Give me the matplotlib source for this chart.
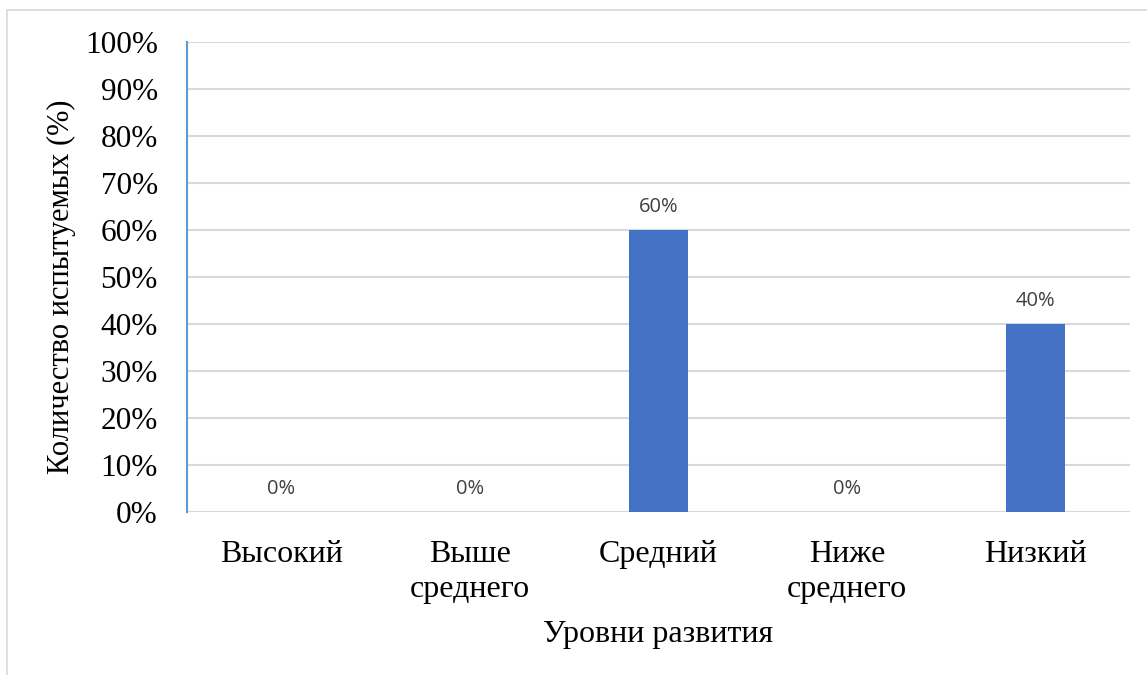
import matplotlib.pyplot as plt
from matplotlib.patches import Rectangle
from matplotlib.ticker import PercentFormatter

# data
categories = ["Высокий", "Выше\nсреднего", "Средний", "Ниже\nсреднего", "Низкий"]
values = [0, 0, 60, 0, 40]
y_ticks = [0, 10, 20, 30, 40, 50, 60, 70, 80, 90, 100]

W, H = 1147, 675
fig = plt.figure(figsize=(W / 100, H / 100), dpi=100)
ax = fig.add_axes([187 / W, 1 - 512 / H, (1130 - 187) / W, (512 - 42) / H])

# outer frame of the chart area (only top and left are visible)
fig.patches.append(Rectangle((7 / W, -0.1), 1.2, 1 - 10 / H + 0.1,
                             transform=fig.transFigure, fill=False,
                             edgecolor="#d9d9d9", linewidth=1.2))

x = range(len(categories))
bars = ax.bar(x, values, width=0.31, color="#4472c4", zorder=3)

for xi, v in zip(x, values):
    ax.text(xi, v + 2.8, f"{v}%", ha="center", va="bottom",
            fontsize=14.5, color="#404040", family="Open Sans")

ax.set_ylim(0, 100)
ax.set_xlim(-0.5, len(categories) - 0.5)
ax.set_yticks(y_ticks)
ax.yaxis.set_major_formatter(PercentFormatter(decimals=0))
ax.grid(axis="y", color="#d9d9d9", linewidth=1.5, zorder=0)

ax.set_xticks(list(x))
ax.set_xticklabels(categories, fontsize=23, family="Liberation Serif",
                   linespacing=1.3)
for lbl in ax.get_yticklabels():
    lbl.set_fontsize(22.5)
    lbl.set_family("Liberation Serif")

ax.tick_params(axis="both", length=0)
ax.tick_params(axis="x", pad=20)
ax.tick_params(axis="y", pad=21)

for s in ["top", "right", "bottom"]:
    ax.spines[s].set_visible(False)
ax.spines["left"].set_color("#5b9bd5")
ax.spines["left"].set_linewidth(1.5)

ax.set_xlabel("Уровни развития", fontsize=23, family="Liberation Serif",
              labelpad=11)
ax.set_ylabel("Количество испытуемых (%)", fontsize=22, family="Liberation Serif")
ax.yaxis.set_label_coords(-0.1177, 0.479)

fig.savefig("out.png", dpi=100)
